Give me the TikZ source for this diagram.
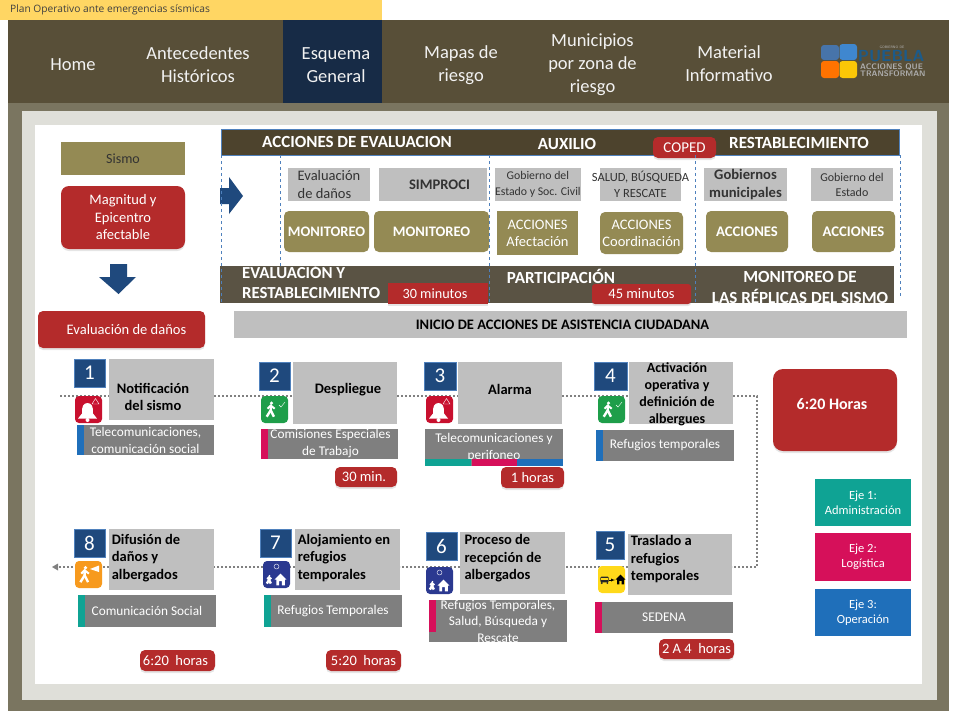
\documentclass[tikz,border=0pt]{standalone}
\usepackage{fontspec}
\setmainfont{Carlito}
\newfontfamily\topfont{Open Sans}
\usetikzlibrary{backgrounds,shadows}

\definecolor{navbg}{HTML}{584F38}
\definecolor{navsel}{HTML}{172B46}
\definecolor{framebg}{HTML}{7A7560}
\definecolor{innerbg}{HTML}{DFDFD9}
\definecolor{stripbg}{HTML}{FFD663}
\definecolor{headbg}{HTML}{4D432D}
\definecolor{bandbg}{HTML}{5A5344}
\definecolor{lightgray}{HTML}{BFBFBF}
\definecolor{olive}{HTML}{948A54}
\definecolor{alarmred}{HTML}{B42B2B}
\definecolor{numblue}{HTML}{1F497D}
\definecolor{guideblue}{HTML}{4F81BD}
\definecolor{bargray}{HTML}{7F7F7F}
\definecolor{ejeteal}{HTML}{0FA394}
\definecolor{ejepink}{HTML}{D6105A}
\definecolor{ejeblue}{HTML}{1F6FBA}
\definecolor{iconred}{HTML}{C8102E}
\definecolor{icongreen}{HTML}{1E9E4A}
\definecolor{iconorange}{HTML}{F79A1E}
\definecolor{iconindigo}{HTML}{2B3990}
\definecolor{iconyellow}{HTML}{FFD91A}

\newcommand{\pxfont}[2]{\fontsize{#1}{#2}\selectfont}

\tikzset{
  wh/.style 2 args={minimum width=#1pt, minimum height=#2pt},
  cell/.style={anchor=north west, inner sep=0pt, outer sep=0pt, align=center},
  navtext/.style={inner sep=0pt, align=center, text=white!95!black, font=\pxfont{18.5}{23}},
  headtext/.style={inner sep=0pt, align=center, text=white, font=\bfseries\pxfont{17}{21}},
  graybox/.style={cell, fill=lightgray, text=black!80},
  olivebox/.style={cell, fill=olive, rounded corners=5pt, text=white, font=\pxfont{14.5}{17}},
  redbox/.style={cell, fill=alarmred, rounded corners=5pt, text=white, font=\pxfont{14.5}{16},
    drop shadow={opacity=.2, shadow xshift=0pt, shadow yshift=-2pt}},
  numbox/.style={cell, fill=numblue, draw=guideblue, text=white, font=\pxfont{21}{21}},
  stepbox/.style={cell, fill=lightgray, text=black},
  steptext/.style={inner sep=0pt, align=left, text=black, font=\bfseries\pxfont{14.5}{17.5}},
  barbox/.style={cell, fill=bargray, text=white, font=\pxfont{13.3}{17}},
  iconbox/.style={cell, rounded corners=4pt, wh={27}{27}},
  ejebox/.style={cell, text=white, font=\pxfont{12.5}{15}, wh={96}{47}},
  flow/.style={draw=black!50, line width=2.2pt, dash pattern=on 2pt off 2pt},
  guide/.style={draw=guideblue, thin, dashed},
  bellicon/.pic={
    \fill[white] (-10.5,9) -- (-6.5,4) .. controls (-7,-3) and (-5,-6.5) .. (-1,-6.5)
      .. controls (3,-6.5) and (5,-3) .. (4.5,4) -- (8.5,9) -- cycle;
    \fill[white] (-1,10.5) circle (2);
    \draw[white,thin] (7,-11) -- (10.5,-5.5) -- (3.5,-5.5) -- cycle;
  },
  walkicon/.pic={
    \fill[white] (0,-8) circle (2.2);
    \draw[white,line width=2pt] (-5,-1) -- (-1,-5) -- (4,-1);
    \draw[white,line width=2.4pt] (-1,-5) -- (-1,1) -- (3,9);
    \draw[white,line width=2.4pt] (-1,1) -- (-6,9);
  },
  houseicon/.pic={
    \path[pic actions] (-7,0) -- (0,-7) -- (7,0) -- (5,0) -- (5,7) -- (1.5,7) -- (1.5,2) -- (-1.5,2) -- (-1.5,7) -- (-5,7) -- (-5,0) -- cycle;
  },
  busicon/.pic={
    \fill[black!85,rounded corners=1pt] (-6,-4) rectangle (6,4);
    \fill[iconyellow] (-4.5,-2.5) rectangle (4.5,0.5);
    \fill[black!85] (-4,5) circle (1.5) (4,5) circle (1.5);
  }
}

\begin{document}
\begin{tikzpicture}[x=1pt,y=-1pt]
\useasboundingbox (0,0) rectangle (960,720);

% page frame
\begin{scope}[on background layer]
\node[cell, fill=stripbg, wh={382}{20}] (strip) at (0,0) {};
\node[cell, fill=framebg, wh={941}{608}] (frame) at (8,103) {};
\node[cell, fill=navbg, wh={941}{83}] (navbar) at (8,20) {};
\node[cell, fill=navsel, wh={99}{83}] (navsel) at (283,20) {};
\node[cell, fill=innerbg, wh={915}{589}] (inner) at (22,111) {};
\node[cell, fill=white, wh={887}{559}] (sheet) at (35,125) {};
\end{scope}
\node[inner sep=0pt, anchor=west, text=black!75, font=\topfont\pxfont{10.2}{12}] (striptext) at (10,10) {Plan Operativo ante emergencias sísmicas};

\node[navtext] (home) at (73,65) {Home};
\node[navtext] (antecedentes) at (198,65) {Antecedentes\\Históricos};
\node[navtext] (esquema) at (336,65.5) {Esquema\\General};
\node[navtext] (mapas) at (461,65) {Mapas de\\riesgo};
\node[navtext] (municipios) at (592.5,64.5) {Municipios\\por zona de\\riesgo};
\node[navtext] (material) at (729,64) {Material\\Informativo};

% logo
\fill[guideblue!90!black,rounded corners=3pt] (821,45) rectangle (839,60);
\fill[cyan!55!blue!80,rounded corners=3pt] (839.5,44) rectangle (857,60);
\fill[orange!90!red,rounded corners=3pt] (821,61) rectangle (839,78);
\fill[yellow!60!orange,rounded corners=3pt] (839.5,61) rectangle (857,78);
\node[inner sep=0pt, text=white!70!black, font=\sffamily\pxfont{3.5}{4}] (logoa) at (892,47.5) {GOBIERNO DE};
\node[inner sep=0pt, text=numblue!90!cyan, font=\sffamily\bfseries\pxfont{16}{16}] (logob) at (891,56) {PUEBLA};
\node[inner sep=0pt, align=left, anchor=west, text=white!68!black, font=\sffamily\bfseries\pxfont{8}{7.4}] (logoc) at (860,70.5) {ACCIONES QUE\\TRANSFORMAN};

% left column
\node[graybox, fill=olive, wh={124}{33}, font=\pxfont{14}{16}] (sismo) at (61,142) {Sismo};
\node[redbox, rounded corners=8pt, wh={124}{63}, font=\pxfont{14.5}{17.5}] (magnitud) at (61,186) {Magnitud y\\Epicentro\\afectable};
\fill[numblue] (110,264) -- (127,264) -- (127,277) -- (136,277) -- (118.5,294) -- (99,277) -- (110,277) -- cycle;
\node[redbox, wh={167}{37}] (evaluacion) at (38,311) {\hspace*{10pt}Evaluación de daños};

% acciones
\node[cell, fill=headbg, draw=guideblue, thin, wh={678}{26}] (headbar) at (221,129) {};
\node[headtext] (heada) at (357,142) {ACCIONES DE EVALUACION};
\node[headtext] (headb) at (567,144) {AUXILIO};
\node[headtext] (headc) at (799,143) {RESTABLECIMIENTO};
\fill[numblue] (220,188) -- (229,188) -- (229,177) -- (243,196) -- (229,214) -- (229,204) -- (220,204) -- cycle;

\node[graybox, wh={82}{33}, font=\pxfont{14.5}{17.5}, align=left] (evadanos) at (288,168) {Evaluación\\de daños};
\node[graybox, wh={108}{33}, font=\bfseries\pxfont{14.6}{17}] (simproci) at (379,168) {\hspace*{13pt}SIMPROCI};
\node[graybox, wh={83}{33}, font=\pxfont{11.8}{16}] (gobestado) at (495,168) {Gobierno del\\Estado y Soc. Civil};
\node[graybox, wh={81}{33}, font=\pxfont{12.5}{16.5}] (salud) at (600,168) {\makebox[0pt]{SALUD, BÚSQUEDA}\\Y RESCATE};
\node[graybox, wh={83}{33}, font=\bfseries\pxfont{14.6}{17.5}] (gobmun) at (704,168) {Gobiernos\\municipales};
\node[graybox, wh={82}{33}, font=\pxfont{12}{15}] (gobest) at (811,168) {Gobierno del\\Estado};

\node[olivebox, wh={85}{41}, font=\bfseries\pxfont{14.5}{16}] (moni) at (284,211) {MONITOREO};
\node[olivebox, wh={115}{41}, font=\bfseries\pxfont{14.5}{16}] (monib) at (374,211) {MONITOREO};
\node[olivebox, sharp corners, wh={81}{44}] (afecta) at (497,211) {ACCIONES\\Afectación};
\node[olivebox, wh={83}{42}] (coordina) at (600,212) {ACCIONES\\Coordinación};
\node[olivebox, wh={82}{41}, font=\bfseries\pxfont{14.7}{16}] (accionesa) at (706,211) {ACCIONES};
\node[olivebox, wh={83}{41}, font=\bfseries\pxfont{14.7}{16}] (accionesb) at (812,211) {ACCIONES};
\node[redbox, wh={63}{21}, font=\pxfont{15}{15}] (coped) at (653,137) {COPED};

\node[cell, fill=bandbg, wh={674}{37}] (band) at (220,266) {};
\node[headtext, align=left, anchor=north west, font=\bfseries\pxfont{16.8}{20}] (banda) at (242,264.5) {EVALUACIÓN Y\\RESTABLECIMIENTO};
\node[headtext] (bandb) at (561,276) {PARTICIPACIÓN};
\node[headtext] (bandc) at (800,287) {MONITOREO DE\\LAS RÉPLICAS DEL SISMO};
\node[redbox, sharp corners, wh={100}{21}, font=\pxfont{14.2}{15}] (min30) at (388,283) {\hspace*{-6pt}30 minutos};
\node[redbox, rounded corners=3pt, wh={99}{20}] (min45) at (592,284) {45 minutos};
\node[graybox, wh={673}{27}, text=black, font=\bfseries\pxfont{14.5}{16}] (inicio) at (234,311) {\hspace*{-16pt}INICIO DE ACCIONES DE ASISTENCIA CIUDADANA};

% upper row of steps
\node[numbox, wh={31}{28}] (numa) at (74,359) {1};
\node[stepbox, wh={105}{61}] (stepa) at (109,359) {};
\node[steptext, align=center] (texta) at (153,397) {Notificación\\del sismo};
\node[iconbox, fill=iconred] (icona) at (75,396) {};
\pic at (icona.center) {bellicon};
\node[barbox, wh={137}{30}] (bara) at (77,425) {Telecomunicaciones,\\comunicación social};
\node[cell, fill=ejeblue, wh={7}{30}] (stripa) at (77,425) {};

\node[numbox, wh={31}{28}] (numb) at (259,362) {2};
\node[stepbox, wh={104}{62}] (stepb) at (293,362) {};
\node[steptext] (textb) at (348,390) {Despliegue};
\node[iconbox, fill=icongreen] (iconb) at (261,396) {};
\pic[scale=.8] at ([xshift=-3pt]iconb.center) {walkicon};
\draw[white,thin] (279,405) -- (281,407) -- (285,402);
\node[barbox, wh={137}{30}] (barb) at (261,429) {\raisebox{-2pt}{\hspace*{2pt}Comisiones Especiales}\\\raisebox{-2pt}{\hspace*{2pt}de Trabajo}};
\node[cell, fill=ejepink, wh={7}{30}] (stripb) at (261,429) {};
\node[redbox, wh={62}{20}] (timeb) at (335,467) {\hspace*{-4pt}30 min.};

\node[numbox, wh={32}{28}] (numc) at (424,362) {3};
\node[stepbox, wh={104}{62}] (stepc) at (458,362) {};
\node[steptext] (textc) at (510,389) {Alarma};
\node[iconbox, fill=iconred] (iconc) at (426,396) {};
\pic at (iconc.center) {bellicon};
\node[barbox, wh={138}{37}] (barc) at (425,429) {Telecomunicaciones y\\perifoneo};
\node[cell, fill=ejeteal, wh={46}{7}] (stripc) at (425,459) {};
\node[cell, fill=ejepink, wh={45}{7}] (stripd) at (472,459) {};
\node[cell, fill=ejeblue, wh={46}{7}] (stripe) at (517,459) {};
\node[redbox, wh={63}{21}] (timec) at (501,467) {1 horas};

\node[numbox, wh={33}{28}] (numd) at (594,362) {4};
\node[stepbox, wh={104}{62}] (stepd) at (629,362) {};
\node[steptext, align=center, font=\bfseries\pxfont{14}{17}] (textd) at (677,394) {Activación\\operativa y\\definición de\\albergues};
\node[iconbox, fill=icongreen] (icond) at (598,396) {};
\pic[scale=.8] at ([xshift=-3pt]icond.center) {walkicon};
\draw[white,thin] (616,405) -- (618,407) -- (622,402);
\node[barbox, wh={138}{31}] (bard) at (596,430) {Refugios temporales};
\node[cell, fill=ejeblue, wh={7}{31}] (stripf) at (596,430) {};

\node[redbox, rounded corners=10pt, wh={124}{82}] (hours) at (773,369) {};
\node[inner sep=0pt, text=white, font=\bfseries\pxfont{16}{18}] (hourstext) at (832,404) {6:20 Horas};

\node[ejebox, fill=ejeteal] (ejea) at (815,479) {Eje 1:\\Administración};
\node[ejebox, fill=ejepink, minimum height=48pt] (ejeb) at (815,533) {Eje 2:\\Logística};
\node[ejebox, fill=ejeblue] (ejec) at (815,589) {Eje 3:\\Operación};

% lower row of steps
\node[numbox, wh={28}{28}] (nume) at (596,531) {5};
\node[stepbox, wh={104}{61}] (stepe) at (628,534) {};
\node[steptext] (texte) at (665,559.5) {Traslado a\\refugios\\temporales};
\node[iconbox, fill=iconyellow] (icone) at (598,566) {};
\pic[scale=.7] at ([xshift=-7pt]icone.center) {busicon};
\draw[black,thin,-latex] (609,580) -- (615,580);
\pic[scale=.7, fill=black] at ([xshift=9pt]icone.center) {houseicon};
\node[barbox, wh={138}{31}] (bare) at (595,602) {SEDENA};
\node[cell, fill=ejepink, wh={7}{31}] (stripg) at (595,602) {};
\node[redbox, wh={75}{20}] (timee) at (659,639) {2 A 4 ~horas};

\node[numbox, wh={31}{28}] (numf) at (426,532) {6};
\node[stepbox, wh={105}{62}] (stepf) at (460,532) {};
\node[steptext] (textf) at (503,558.5) {Proceso de\\recepción de\\albergados};
\node[iconbox, fill=iconindigo] (iconf) at (426,567) {};
\pic[scale=.45] at ([xshift=-7pt,yshift=-5pt]iconf.center) {walkicon};
\pic[scale=.85, fill=white] at ([xshift=4pt,yshift=-5pt]iconf.center) {houseicon};
\draw[white,thin] ([yshift=8pt]iconf.center) circle (2.5);
\node[barbox, wh={138}{40}, font=\pxfont{13.3}{16.5}] (barf) at (429,600) {Refugios Temporales,\\Salud, Búsqueda y\\Rescate};
\node[cell, fill=ejepink, wh={7}{32}] (striph) at (429,600) {};

\node[numbox, wh={31}{28}] (numg) at (260,529) {7};
\node[stepbox, wh={105}{61}] (stepg) at (295,529) {};
\node[steptext] (textg) at (344,558) {Alojamiento en\\refugios\\temporales};
\node[iconbox, fill=iconindigo] (icong) at (263,561) {};
\pic[scale=.45] at ([xshift=-7pt,yshift=-5pt]icong.center) {walkicon};
\pic[scale=.85, fill=white] at ([xshift=4pt,yshift=-5pt]icong.center) {houseicon};
\draw[white,thin] ([yshift=8pt]icong.center) circle (2.5);
\node[barbox, wh={138}{32}] (barg) at (264,595) {Refugios Temporales};
\node[cell, fill=ejeteal, wh={7}{32}] (stripi) at (264,595) {};
\node[redbox, wh={75}{21}] (timeg) at (326,650) {5:20 ~horas};

\node[numbox, wh={31}{28}] (numh) at (74,529) {8};
\node[stepbox, wh={105}{61}] (steph) at (109,529) {};
\node[steptext] (texth) at (146,558) {Difusión de\\daños y\\albergados};
\node[iconbox, fill=iconorange] (iconh) at (75,561) {};
\pic[scale=.85] at ([xshift=-3pt]iconh.center) {walkicon};
\fill[white] (90,569) -- (99,565.5) -- (99,572) -- cycle;
\node[barbox, wh={138}{32}] (barh) at (78,595) {Comunicación Social};
\node[cell, fill=ejeteal, wh={7}{32}] (stripj) at (78,595) {};
\node[redbox, wh={75}{21}] (timeh) at (140,650) {\hspace*{-4pt}6:20 ~horas};

% vertical guides
\draw[guide] (headbar.south west) -- ++(0,148);
\draw[guide] (headbar.south west -| moni.west) ++(-4,0) -- ++(0,113);
\draw[guide] (headbar.south west -| monib.east) -- (band.south -| monib.east);
\draw[guide] (headbar.south west -| min45.east) ++(4,0) -- ++(0,148);
\draw[guide] (headbar.south east) ++(1,0) -- ++(0,141);

% flow between the steps
\coordinate (rowa) at (0,396);
\coordinate (rowb) at (0,567);
\coordinate (flowin) at (60,396);
\coordinate (flowout) at (52,567);
\coordinate (cornera) at (757,396);
\coordinate (cornerb) at (757,567);
\begin{scope}[on background layer]
\path[flow] (flowin) -- (stepa.west |- rowa);
\path[flow] (stepa.east |- rowa) -- (stepb.west |- rowa);
\path[flow] (stepb.east |- rowa) -- (stepc.west |- rowa);
\path[flow] (stepc.east |- rowa) -- (stepd.west |- rowa);
\path[flow] (stepd.east |- rowa) -- (cornera) -- (cornerb) -- (stepe.east |- rowb);
\path[flow] (stepe.west |- rowb) -- (stepf.east |- rowb);
\path[flow] (stepf.west |- rowb) -- (stepg.east |- rowb);
\path[flow] (stepg.west |- rowb) -- (steph.east |- rowb);
\path[flow] (steph.west |- rowb) -- ([xshift=6pt]flowout);
\end{scope}
\fill[black!50] (flowout) -- ++(6,-3.5) -- ++(0,7) -- cycle;
\end{tikzpicture}
\end{document}
